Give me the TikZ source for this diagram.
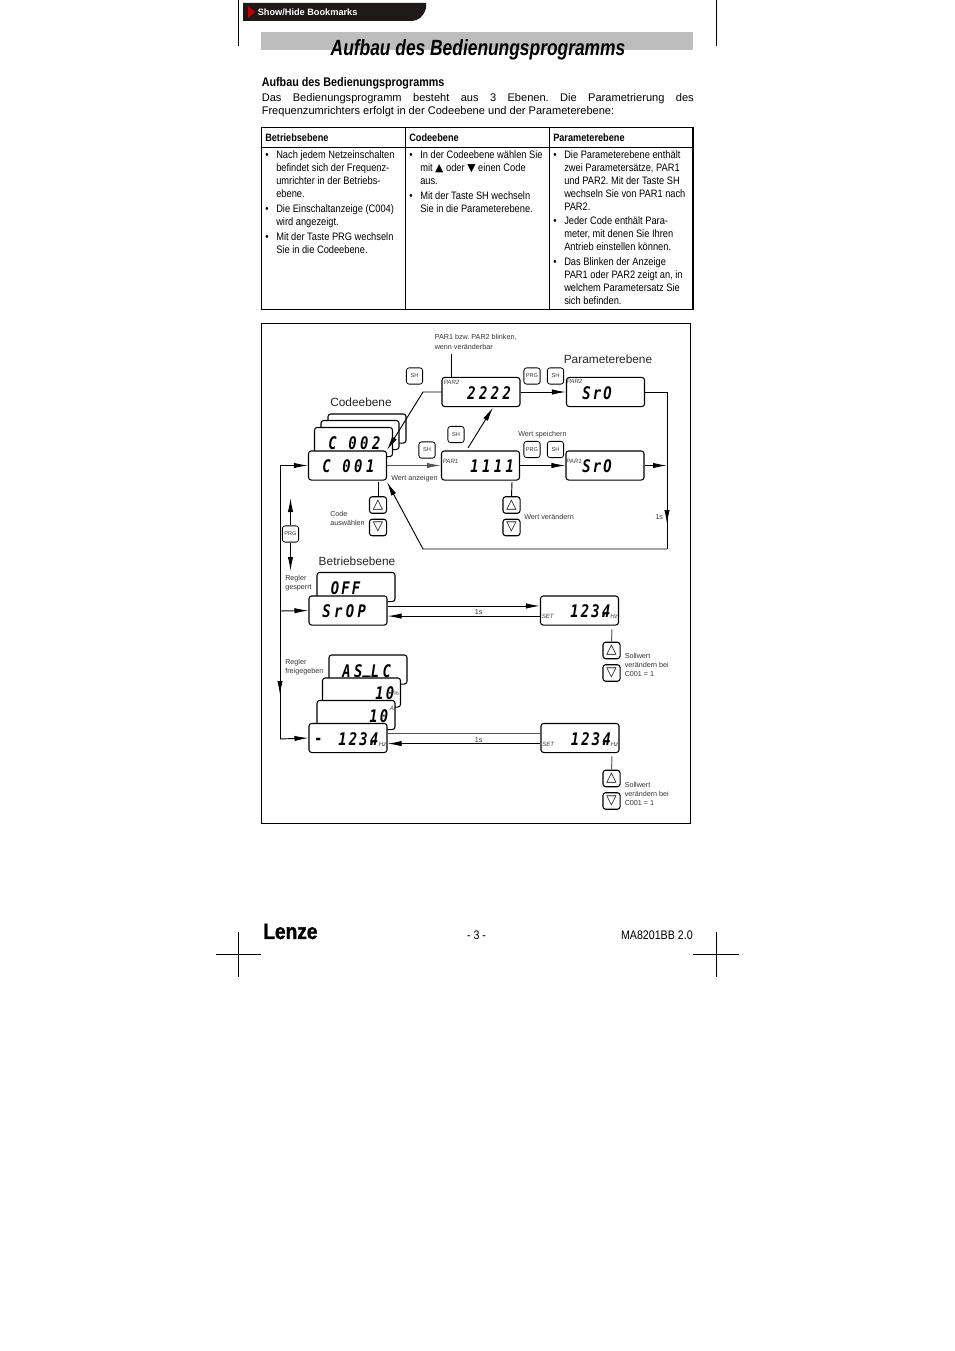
\documentclass[tikz,border=0pt]{standalone}
\usepackage{fontspec}
\setmainfont{Liberation Sans}
\newfontfamily\narrowfont[FakeStretch=0.86]{Liberation Sans}
\newfontfamily\titlefont[FakeStretch=0.79]{Liberation Sans}
\newfontfamily\logofont[FakeStretch=0.87,FakeBold=1.5]{Liberation Sans}
\newfontfamily\segfont[FakeStretch=0.8,LetterSpace=20]{DejaVu Sans Mono}
\newfontfamily\segtightfont[FakeStretch=0.8,LetterSpace=13]{DejaVu Sans Mono}
\newfontfamily\symfont{DejaVu Sans}
\usetikzlibrary{arrows.meta, positioning}
\newcommand{\itm}{\llap{•\hspace{5.8pt}}}
\newcommand{\setvalue}{123\rlap{.}\kern1.7pt 4}
\definecolor{tabblack}{HTML}{1E1A1A}
\definecolor{titlegray}{HTML}{BDBDBD}
\definecolor{flowgray}{HTML}{555555}

\begin{document}
\frenchspacing
\begin{tikzpicture}[
    x=0.75pt, y=-0.75pt,
    display/.style={rectangle, rounded corners=2pt, draw=black, line width=0.8pt, fill=white,
                    minimum width=58.5pt, minimum height=21.8pt, inner sep=0pt},
    seg/.style={font=\segfont\bfseries\itshape\fontsize{13}{14}\selectfont, inner sep=0pt},
    segtight/.style={font=\segtightfont\bfseries\itshape\fontsize{13}{14}\selectfont, inner sep=0pt},
    keybox/.style={rectangle, rounded corners=2pt, draw=black, line width=0.6pt, fill=white,
                   minimum width=12.2pt, minimum height=12.2pt, inner sep=0pt,
                   font=\fontsize{4.2}{4.5}\selectfont, text=black!80},
    arrowkey/.style={keybox, line width=0.8pt, minimum width=12.8pt, minimum height=12.4pt,
                     font=\symfont\fontsize{10}{10}\selectfont, text=black},
    flow/.style={-{Latex[length=10.5pt,width=4pt]}, line width=0.7pt},
    plain/.style={line width=0.7pt},
    level/.style={font=\fontsize{8.9}{10}\selectfont, text=black!85, inner sep=0pt},
    note/.style={font=\fontsize{5.4}{6.8}\selectfont, text=black!80, inner sep=0pt, align=left, anchor=north west},
    tag/.style={font=\itshape\fontsize{4.6}{5}\selectfont, text=black!75, inner sep=0pt},
    cell/.style={font=\narrowfont\fontsize{8.1}{9.75}\selectfont, inner sep=0pt, align=left, anchor=north west},
    head/.style={font=\narrowfont\bfseries\fontsize{8}{9}\selectfont, inner sep=0pt, anchor=west},
    crop/.style={line width=0.6pt}
]
    \useasboundingbox (0,0) rectangle (954,1351);

    % Page header
    \fill[tabblack] (243,3) -- (426,3) -- (426,8) .. controls (424,16) and (419,21) .. (410,21) -- (243,21) -- cycle;
    \fill[red!75!black] (248,6) -- (255,12) -- (248,18) -- cycle;
    \node[font=\bfseries\fontsize{6.9}{8}\selectfont, text=white, inner sep=0pt, anchor=west] (tab) at (257.5,12) {Show/Hide Bookmarks};
    \fill[titlegray] (261,32) rectangle (693,50);
    \node[font=\titlefont\bfseries\itshape\fontsize{16.5}{20}\selectfont, inner sep=0pt] (title) at (478,50) {Aufbau des Bedienungsprogramms};
    \node[font=\narrowfont\bfseries\fontsize{9.4}{11}\selectfont, inner sep=0pt, anchor=west] (subtitle) at (261.5,83.5) {Aufbau des Bedienungsprogramms};
    \node[font=\fontsize{8.3}{9.75}\selectfont, inner sep=0pt, text width=324pt, align=justify, anchor=north west] (intro) at (261.5,93.5)
        {Das Bedienungsprogramm besteht aus 3 Ebenen. Die Parametrierung des\linebreak Frequenzumrichters erfolgt in der Codeebene und der Parameterebene:};

    % Table
    \draw[line width=0.8pt] (261.5,127.5) rectangle (693,309.5);
    \draw[line width=0.8pt] (261.5,147.5) -- (693,147.5);
    \draw[line width=0.8pt] (405.5,127.5) -- (405.5,309.5);
    \draw[line width=0.8pt] (549.5,127.5) -- (549.5,309.5);
    \node[head] (hbetrieb) at (265,137.5) {Betriebsebene};
    \node[head] (hcode) at (409,137.5) {Codeebene};
    \node[head] (hparam) at (553,137.5) {Parameterebene};
    \node[cell] (b1) at (276,150.5) {\itm Nach jedem Netzeinschalten\\befindet sich der Frequenz-\\umrichter in der Betriebs-\\ebene.};
    \node[cell] (b2) at (276,204.5) {\itm Die Einschaltanzeige (C004)\\wird angezeigt.};
    \node[cell] (b3) at (276,232.5) {\itm Mit der Taste PRG wechseln\\Sie in die Codeebene.};
    \node[cell] (c1) at (420,150.5) {\itm In der Codeebene wählen Sie\\mit {\symfont ▲} oder {\symfont ▼} einen Code\\aus.};
    \node[cell] (c2) at (420,191.5) {\itm Mit der Taste SH wechseln\\Sie in die Parameterebene.};
    \node[cell] (p1) at (564,150.5) {\itm Die Parameterebene enthält\\zwei Parametersätze, PAR1\\und PAR2. Mit der Taste SH\\wechseln Sie von PAR1 nach\\PAR2.};
    \node[cell] (p2) at (564,216.5) {\itm Jeder Code enthält Para-\\meter, mit denen Sie Ihren\\Antrieb einstellen können.};
    \node[cell] (p3) at (564,257.5) {\itm Das Blinken der Anzeige\\PAR1 oder PAR2 zeigt an, in\\welchem Parametersatz Sie\\sich befinden.};

    % Diagram frame
    \draw[line width=0.8pt] (261.5,323.5) rectangle (690.5,823.5);

    % Codeebene
    \node[display] (code4) at (367,428.5) {};
    \node[display] (code3) at (360,435) {};
    \node[display] (code2) at (353.5,442) {};
    \node[seg, anchor=west] (code2txt) at (328,443) {C 002};
    \node[display] (code1) at (347.5,465.5) {};
    \node[seg, anchor=west] (code1txt) at (322,466.5) {C 001};
    \node[level] (lcode) at (361,402) {Codeebene};

    % Parameterebene
    \node[display] (par2) at (481,392) {};
    \node[seg, anchor=west] (par2txt) at (467,393.5) {2222};
    \node[tag, anchor=west] (par2tag) at (443.5,382) {PAR2};
    \node[display] (par1) at (480.5,465.5) {};
    \node[seg, anchor=west] (par1txt) at (470,466.5) {1111};
    \node[tag, anchor=west] (par1tag) at (442.5,461) {PAR1};
    \node[display] (sr2) at (605.5,392) {};
    \node[segtight, anchor=west] (sr2txt) at (582,393.5) {SrO};
    \node[tag, anchor=west] (sr2tag) at (566.5,381) {PAR2};
    \node[display] (sr1) at (605,465.5) {};
    \node[segtight, anchor=west] (sr1txt) at (582,466.5) {SrO};
    \node[tag, anchor=west] (sr1tag) at (566,461) {PAR1};
    \node[level] (lparam) at (608,359) {Parameterebene};

    % Betriebsebene
    \node[level] (lbetrieb) at (357,561) {Betriebsebene};
    \node[display] (off) at (356,587) {};
    \node[segtight, anchor=west] (offtxt) at (330.5,588) {OFF};
    \node[display] (stop) at (348,610.5) {};
    \node[seg, anchor=west] (stoptxt) at (322,611.5) {SrOP};
    \node[display] (aslc) at (368,669.5) {};
    \node[seg, anchor=west] (aslctxt) at (342,671) {AS\raisebox{2.5pt}{\_}LC};
    \node[display] (pct) at (361.5,692.5) {};
    \node[segtight, anchor=west] (pcttxt) at (375,693.5) {10};
    \node[tag, anchor=west, font=\fontsize{4.6}{5}\selectfont] (pcttag) at (393,693.5) {\%};
    \node[display] (amp) at (356,715) {};
    \node[segtight, anchor=west] (amptxt) at (369,716) {10};
    \node[tag, anchor=west] (amptag) at (389.5,708) {A};
    \node[display] (run) at (348,738) {};
    \node[seg, anchor=west] (runminus) at (314,741) {-};
    \node[segtight, anchor=west] (runtxt) at (338,739.5) {\setvalue};
    \node[tag, anchor=west] (runtag) at (378.5,744) {Hz};

    % Sollwert displays
    \node[display] (set1) at (579.5,610.5) {};
    \node[segtight, anchor=west] (set1txt) at (570,611.5) {\setvalue};
    \node[tag, anchor=west] (set1name) at (541.5,616) {SET};
    \node[tag, anchor=west] (set1tag) at (610,616) {Hz};
    \node[display] (set2) at (580,738) {};
    \node[segtight, anchor=west] (set2txt) at (570.5,739.5) {\setvalue};
    \node[tag, anchor=west] (set2name) at (542,744) {SET};
    \node[tag, anchor=west] (set2tag) at (610.5,744) {Hz};

    % Keys
    \node[keybox] (shtop) at (414.5,376) {SH};
    \node[keybox] (shmid) at (456,434.5) {SH};
    \node[keybox] (shleft) at (427,450) {SH};
    \node[keybox] (prgtop) at (532,376) {PRG};
    \node[keybox] (shtopr) at (555.5,376) {SH};
    \node[keybox] (prgmid) at (532,449.5) {PRG};
    \node[keybox] (shmidr) at (555.5,449.5) {SH};
    \node[keybox] (prgleft) at (290.5,534) {PRG};
    \node[arrowkey] (upcode) at (378,505) {△};
    \node[arrowkey] (downcode) at (378,527.5) {▽};
    \node[arrowkey] (uppar) at (511.5,505) {△};
    \node[arrowkey] (downpar) at (511.5,527.5) {▽};
    \node[arrowkey] (upset1) at (611.5,650.5) {△};
    \node[arrowkey] (downset1) at (611.5,673) {▽};
    \node[arrowkey] (upset2) at (611.5,778.5) {△};
    \node[arrowkey] (downset2) at (611.5,801) {▽};

    % Notes
    \node[note] (nblink) at (434.5,334.5) {PAR1 bzw. PAR2 blinken,\\wenn veränderbar};
    \node[note] (nspeichern) at (518,431.5) {Wert speichern};
    \node[note] (nanzeigen) at (391,475) {Wert anzeigen};
    \node[note] (nwaehlen) at (330,511) {Code\\auswählen};
    \node[note] (nwert) at (524,514) {Wert verändern};
    \node[note] (nsec) at (655,514) {1s};
    \node[note] (ngesperrt) at (285,575) {Regler\\gesperrt};
    \node[note] (nfrei) at (285,659) {Regler\\freigegeben};
    \node[note] (nsoll1) at (624.5,653) {Sollwert\\verändern bei\\C001 = 1};
    \node[note] (nsoll2) at (624.5,782) {Sollwert\\verändern bei\\C001 = 1};
    \node[note] (nsec1) at (474.5,609.5) {1s};
    \node[note] (nsec2) at (474.5,737.5) {1s};

    % Connector points
    \coordinate (ltop) at (280,465.5);
    \coordinate (lstop) at (280,611);
    \coordinate (lmid) at (280,695);
    \coordinate (lrun) at (280,739);
    \coordinate (rtop) at (667,392);
    \coordinate (rsr) at (667,465.5);
    \coordinate (rmid) at (667,524);
    \coordinate (rbot) at (667,549);
    \coordinate (backbend) at (423,549);
    \coordinate (backtip) at (387,482);
    \coordinate (par2bend) at (423,392);
    \coordinate (code2tip) at (387,450);
    \coordinate (uptip) at (290.5,498);
    \coordinate (downtip) at (290.5,571);
    \coordinate (linkstart) at (468,448);
    \coordinate (linktip) at (493,407.5);
    \coordinate (blinktop) at (451,354);

    % Connectors
    \draw[flow] (ltop) -- (code1.west);
    \draw[plain] (ltop) -- (lrun);
    \draw[flow] (ltop) -- (lmid);
    \draw[flow] (lstop) -- (stop.west);
    \draw[flow] (lrun) -- (run.west);
    \draw[flow] (prgleft.north) -- (uptip);
    \draw[flow] (prgleft.south) -- (downtip);
    \draw[flow, draw=flowgray] (code1.east) -- (par1.west);
    \draw[flow] (par2.west) -- (par2bend) -- (code2tip);
    \draw[flow] (linkstart) -- (linktip);
    \draw[plain] (blinktop) -- (par2.north -| blinktop);
    \draw[flow] (par2.east) -- (sr2.west);
    \draw[flow] (par1.east) -- (sr1.west);
    \draw[plain] (sr2.east) -- (rtop) -- (rbot);
    \draw[flow] (sr1.east) -- (rsr);
    \draw[flow] (rtop) -- (rmid);
    \draw[flow] (rbot) -- (backbend) -- (backtip);

    % Level links
    \draw[flow] ([yshift=3.4pt]stop.east) -- ([yshift=3.4pt]set1.west);
    \draw[flow] ([yshift=-4.2pt]set1.west) -- ([yshift=-4.2pt]stop.east);
    \draw[plain, draw=flowgray] ([yshift=3.4pt]run.east) -- ([yshift=3.4pt]set2.west);
    \draw[flow] ([yshift=-4.2pt]set2.west) -- ([yshift=-4.2pt]run.east);

    % Key ticks
    \draw[plain] (378,482) -- (upcode.north);
    \draw[plain] (512,482) -- (uppar.north);
    \draw[plain, draw=flowgray] (612,629) -- (upset1.north);
    \draw[plain, draw=flowgray] (612,756) -- (upset2.north);

    % Footer
    \node[font=\logofont\bfseries\fontsize{16.5}{18}\selectfont, inner sep=0pt, anchor=west] (logo) at (263,931.5) {Lenze};
    \node[font=\narrowfont\fontsize{9.3}{11}\selectfont, inner sep=0pt] (pageno) at (476.5,935) {- 3 -};
    \node[font=\narrowfont\fontsize{9.3}{11}\selectfont, inner sep=0pt, anchor=east] (docno) at (693,935) {MA8201BB 2.0};

    % Crop marks
    \draw[crop] (238,0) -- (238,46);
    \draw[crop] (716,0) -- (716,46);
    \draw[crop] (238,932) -- (238,977);
    \draw[crop] (716,932) -- (716,977);
    \draw[crop] (216,954) -- (261,954);
    \draw[crop] (693,954) -- (739,954);
\end{tikzpicture}
\end{document}
